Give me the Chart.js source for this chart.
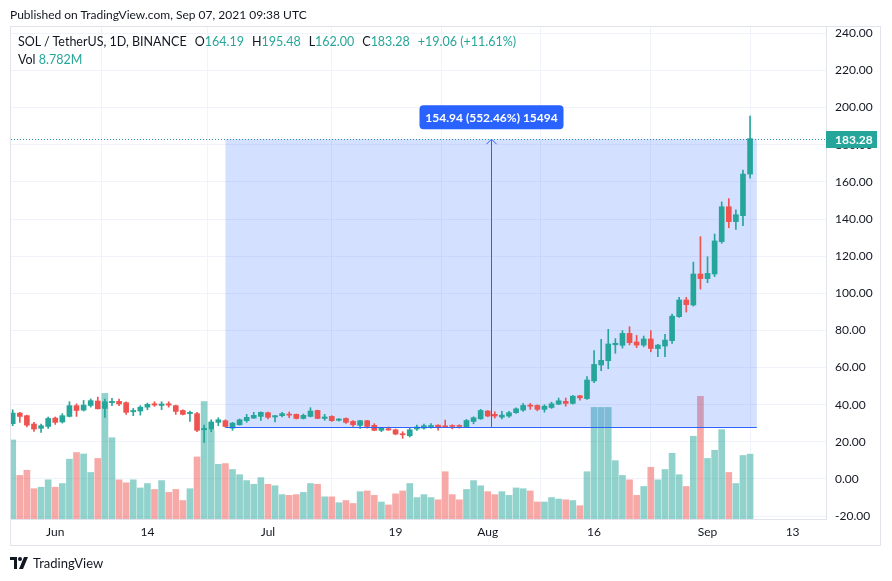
<!DOCTYPE html>
<html>
<head>
<meta charset="utf-8">
<script src="https://cdn.jsdelivr.net/npm/chart.js@4.4.0/dist/chart.umd.min.js"></script>
<style>
  html, body { margin: 0; padding: 0; background: #fff; }
  #wrap { position: relative; width: 892px; height: 581px; overflow: hidden; font-family: Lato, "Liberation Sans", sans-serif; color: #131722; }
  #chart { position: absolute; left: 0; top: 0; }
  .frame { position: absolute; left: 10px; top: 26px; width: 871px; height: 520px; border: 1px solid #e0e3eb; box-sizing: border-box; pointer-events: none; }
  .published { position: absolute; left: 10px; top: 7px; font-size: 12px; white-space: nowrap; }
  .legend { position: absolute; left: 18px; top: 33px; font-size: 12.5px; line-height: 18px; white-space: nowrap; }
  .legend .v { color: #26a69a; }
  .legend .g { margin-left: 8px; }
  .footer { position: absolute; left: 10px; top: 555px; font-size: 13px; display: flex; align-items: center; gap: 4px; }
</style>
</head>
<body>
<div id="wrap">
  <canvas id="chart" width="892" height="581"></canvas>
  <div class="frame"></div>
  <div class="published">Published on TradingView.com, Sep 07, 2021 09:38 UTC</div>
  <div class="legend">
    <div>SOL / TetherUS, 1D, BINANCE<span class="g">O</span><span class="v">164.19</span><span class="g">H</span><span class="v">195.48</span><span class="g">L</span><span class="v">162.00</span><span class="g">C</span><span class="v">183.28</span><span class="g v">+19.06 (+11.61%)</span></div>
    <div>Vol <span class="v">8.782M</span></div>
  </div>
  <div class="footer">
    <svg width="19" height="12" viewBox="0 0 19 12"><path d="M0 0h7v12H4V3H0z" fill="#131722"/><circle cx="10" cy="2" r="2" fill="#131722"/><path d="M14 0h4l-5 12H9z" fill="#131722"/></svg>
    <span>TradingView</span>
  </div>
</div>
<script>
  // daily candles, 26 May 2021 -> 7 Sep 2021 (x = day index)
  const opens = [
    29.8, 35.5, 34.1, 29.6, 27.3, 28.3, 32.8, 30.7, 33.7, 39.5,
    37.1, 39.6, 42.0, 38.0, 41.1, 41.8, 41.1, 36.2, 36.6, 38.7,
    40.5, 39.6, 40.5, 39.5, 36.9, 35.2, 35.2, 26.5, 26.9, 30.5,
    31.4, 27.4, 29.2, 31.4, 32.8, 33.7, 35.7, 33.4, 34.1, 34.8,
    34.8, 32.6, 33.7, 36.9, 32.6, 33.7, 31.6, 32.6, 31.0, 28.9,
    31.4, 28.9, 26.2, 27.1, 26.5, 24.4, 23.3, 26.9, 27.4, 27.9,
    29.0, 28.5, 28.7, 28.7, 28.1, 31.0, 32.4, 36.6, 34.8, 33.3,
    33.9, 35.7, 37.1, 39.8, 39.6, 37.5, 38.5, 40.3, 41.8, 40.7,
    44.8, 43.3, 52.8, 61.4, 63.7, 72.3, 72.0, 78.4, 73.8, 72.1,
    75.4, 70.2, 71.6, 74.5, 87.4, 96.4, 93.7, 110.4, 107.9, 110.4,
    127.8, 146.6, 138.6, 141.8, 164.19
  ];
  const highs = [
    37.3, 35.9, 34.4, 30.5, 29.6, 33.4, 33.4, 35.2, 41.6, 40.5,
    42.3, 43.1, 44.1, 43.1, 43.4, 43.1, 41.6, 38.0, 39.5, 40.9,
    41.6, 41.6, 41.6, 39.8, 37.3, 36.6, 35.9, 29.0, 31.9, 33.0,
    31.9, 30.5, 32.3, 34.8, 35.9, 36.2, 36.1, 34.3, 35.9, 36.1,
    35.0, 35.0, 38.4, 37.1, 34.8, 34.1, 32.6, 33.0, 31.4, 31.6,
    31.6, 29.8, 27.6, 28.0, 26.9, 25.5, 27.3, 29.0, 29.6, 29.9,
    29.2, 31.7, 29.2, 29.2, 32.1, 33.5, 37.5, 36.9, 36.2, 36.4,
    36.4, 38.3, 40.7, 40.7, 40.0, 40.0, 41.4, 43.6, 43.6, 45.0,
    45.0, 55.1, 69.1, 75.2, 80.6, 75.6, 79.9, 82.0, 77.3, 77.0,
    79.9, 72.5, 77.9, 88.8, 97.8, 97.8, 116.8, 130.5, 119.7, 131.9,
    149.2, 151.0, 144.9, 166.4, 195.48
  ];
  const lows = [
    28.7, 30.5, 28.0, 25.6, 25.1, 27.3, 29.4, 30.1, 33.4, 33.7,
    36.6, 38.7, 37.7, 33.2, 39.5, 39.5, 34.8, 34.1, 34.4, 37.3,
    39.1, 37.3, 38.7, 34.8, 34.5, 31.0, 25.5, 19.7, 25.5, 28.7,
    28.0, 26.2, 29.0, 30.5, 32.6, 31.6, 32.3, 30.8, 33.4, 33.0,
    32.3, 32.3, 33.4, 32.5, 31.6, 31.0, 31.2, 29.9, 28.3, 27.3,
    27.4, 26.0, 25.5, 26.2, 23.8, 21.9, 22.6, 26.2, 26.9, 27.4,
    26.3, 27.8, 27.0, 27.4, 27.8, 29.7, 32.1, 33.5, 32.8, 32.4,
    33.1, 35.3, 36.4, 37.5, 36.7, 36.0, 38.0, 40.0, 39.2, 40.3,
    42.5, 42.8, 51.9, 58.3, 59.4, 67.7, 70.5, 72.2, 70.7, 71.2,
    68.5, 65.9, 65.9, 73.0, 87.0, 89.9, 93.1, 102.3, 105.7, 109.0,
    126.9, 135.3, 134.4, 136.4, 162.00
  ];
  const closes = [
    35.5, 33.7, 29.0, 26.9, 28.7, 32.6, 30.5, 34.1, 39.5, 36.9,
    39.8, 42.2, 37.8, 41.6, 41.8, 40.4, 35.9, 36.9, 38.7, 40.2,
    39.8, 40.4, 39.8, 36.4, 34.8, 35.9, 26.2, 27.3, 30.7, 31.9,
    28.3, 30.1, 31.9, 33.2, 34.3, 35.9, 33.2, 34.1, 35.2, 34.4,
    32.6, 34.3, 36.6, 32.6, 33.4, 31.4, 32.3, 30.5, 29.2, 31.4,
    28.3, 26.2, 27.3, 26.4, 24.2, 23.8, 26.5, 28.0, 28.7, 28.8,
    27.8, 28.1, 28.3, 28.3, 31.5, 33.0, 36.9, 33.9, 33.9, 34.4,
    35.7, 37.8, 39.6, 39.2, 37.5, 39.2, 40.5, 42.1, 40.7, 44.6,
    43.7, 53.3, 61.7, 63.9, 72.7, 73.1, 78.4, 73.4, 72.1, 75.4,
    70.3, 72.1, 74.8, 87.7, 96.4, 93.9, 110.4, 107.9, 110.7, 128.2,
    146.6, 138.6, 142.3, 164.19, 183.28
  ];
  // volume in millions
  const volumes = [
    10.7, 5.9, 6.6, 4.1, 4.3, 5.3, 4.3, 4.8, 8.1, 9.0,
    8.8, 6.3, 8.2, 17.0, 11.0, 5.3, 4.9, 5.3, 4.2, 4.8,
    4.0, 5.2, 3.6, 4.0, 2.5, 4.1, 8.4, 15.9, 12.1, 7.4,
    7.5, 6.7, 6.0, 5.2, 4.7, 5.6, 4.7, 4.5, 3.3, 3.2,
    3.3, 3.6, 4.8, 4.7, 3.0, 3.0, 2.2, 2.5, 2.1, 3.7,
    3.8, 3.2, 2.3, 1.9, 3.4, 3.8, 4.8, 2.9, 3.3, 2.9,
    2.6, 6.4, 3.3, 2.6, 4.0, 5.2, 4.5, 3.7, 3.3, 3.7,
    3.2, 4.2, 4.1, 3.8, 2.3, 2.3, 2.9, 2.7, 2.6, 2.5,
    1.8, 6.4, 15.1, 15.1, 15.1, 7.9, 5.9, 5.3, 3.2, 4.4,
    7.0, 5.3, 6.7, 8.9, 6.0, 4.4, 11.2, 16.6, 8.2, 9.3,
    12.1, 6.3, 4.8, 8.6, 8.782
  ];
  const tickDays = [6, 19, 36, 54, 67, 82, 98, 110];
  const tickLabels = ['Jun', '14', 'Jul', '19', 'Aug', '16', 'Sep', '13'];
  const priceTicks = [-20, 0, 20, 40, 60, 80, 100, 120, 140, 160, 180, 200, 220, 240];

  // price range drawing: anchors in (day, price)
  const measureFrom = { day: 30.0, price: 28.05 };
  const measureTo = { day: 104.95, price: 183.0 };
  const measureText = '154.94 (552.46%) 15494';
  const lastPrice = 183.28;

  const UP = '#26a69a';
  const DOWN = '#ef5350';
  const UP_VOL = 'rgba(38,166,154,0.5)';
  const DOWN_VOL = 'rgba(239,83,80,0.5)';
  const isUp = closes.map((c, i) => c >= opens[i]);

  const overlay = {
    id: 'overlay',
    beforeDatasetDraw(chart, args) {
      if (chart.data.datasets[args.index].label !== 'Wick') return;
      const { ctx, chartArea, scales: { x, y } } = chart;
      const x0 = x.getPixelForValue(measureFrom.day);
      const x1 = x.getPixelForValue(measureTo.day);
      const yTop = y.getPixelForValue(measureTo.price);
      const yBot = y.getPixelForValue(measureFrom.price);
      ctx.save();
      ctx.beginPath();
      ctx.rect(chartArea.left, chartArea.top, chartArea.width, chartArea.height);
      ctx.clip();
      ctx.fillStyle = 'rgba(41,98,255,0.2)';
      ctx.fillRect(x0, yTop, x1 - x0, yBot - yTop);
      ctx.restore();
    },
    afterDatasetsDraw(chart) {
      const { ctx, chartArea, scales: { x, y } } = chart;
      const x0 = x.getPixelForValue(measureFrom.day);
      const x1 = x.getPixelForValue(measureTo.day);
      const yTop = y.getPixelForValue(measureTo.price);
      const yBot = y.getPixelForValue(measureFrom.price);
      const xm = Math.round((x0 + x1) / 2) + 0.5;
      ctx.save();
      ctx.strokeStyle = '#2962ff';
      ctx.lineWidth = 1;
      ctx.beginPath();
      ctx.moveTo(x0, Math.round(yBot) + 0.5);
      ctx.lineTo(x1, Math.round(yBot) + 0.5);
      ctx.moveTo(xm, yBot);
      ctx.lineTo(xm, yTop);
      ctx.moveTo(xm - 5, yTop + 5);
      ctx.lineTo(xm, yTop);
      ctx.lineTo(xm + 5, yTop + 5);
      ctx.stroke();

      // last price dotted line
      const yl = Math.round(y.getPixelForValue(lastPrice)) + 0.5;
      ctx.strokeStyle = '#2b8fa8';
      ctx.setLineDash([1, 2]);
      ctx.beginPath();
      ctx.moveTo(chartArea.left, yl);
      ctx.lineTo(chartArea.right, yl);
      ctx.stroke();
      ctx.setLineDash([]);

      // measure label
      ctx.font = 'bold 12px Lato, "Liberation Sans", sans-serif';
      const w = 144, h = 24;
      const bx = xm - w / 2, by = yTop - 10 - h;
      ctx.fillStyle = '#2962ff';
      ctx.beginPath();
      ctx.roundRect(bx, by, w, h, 4);
      ctx.fill();
      ctx.fillStyle = '#fff';
      ctx.textAlign = 'center';
      ctx.textBaseline = 'middle';
      ctx.fillText(measureText, xm, by + h / 2 + 1);
      ctx.restore();
    },
    afterDraw(chart) {
      const { ctx, chartArea, scales: { y } } = chart;
      const yl = y.getPixelForValue(lastPrice);
      ctx.save();
      ctx.fillStyle = UP;
      ctx.fillRect(chartArea.right, Math.round(yl) - 8, 51, 17);
      ctx.fillStyle = '#fff';
      ctx.font = 'bold 12px Lato, "Liberation Sans", sans-serif';
      ctx.textAlign = 'left';
      ctx.textBaseline = 'middle';
      ctx.fillText(lastPrice.toFixed(2), chartArea.right + 9, Math.round(yl) + 1);
      ctx.restore();
    }
  };

  Chart.defaults.font.family = 'Lato, "Liberation Sans", sans-serif';
  Chart.defaults.font.size = 12;
  Chart.defaults.color = '#131722';

  new Chart(document.getElementById('chart'), {
    type: 'bar',
    data: {
      datasets: [
        {
          label: 'Body',
          data: opens.map((o, i) => ({ x: i, y: [o, closes[i]] })),
          backgroundColor: isUp.map((u) => (u ? UP : DOWN)),
          barThickness: 5,
          minBarLength: 1,
          grouped: false,
          order: 1
        },
        {
          label: 'Wick',
          data: lows.map((l, i) => ({ x: i, y: [l, highs[i]] })),
          backgroundColor: isUp.map((u) => (u ? UP : DOWN)),
          barThickness: 1,
          grouped: false,
          order: 2
        },
        {
          label: 'Volume',
          data: volumes.map((v, i) => ({ x: i, y: v })),
          backgroundColor: isUp.map((u) => (u ? UP_VOL : DOWN_VOL)),
          barThickness: 6,
          grouped: false,
          yAxisID: 'vol',
          order: 3
        }
      ]
    },
    options: {
      responsive: false,
      animation: false,
      layout: { padding: { left: 11, top: 27, right: 12, bottom: 36 } },
      plugins: { legend: { display: false }, tooltip: { enabled: false } },
      scales: {
        x: {
          type: 'linear',
          min: -0.24,
          max: 114.71,
          offset: false,
          afterFit(scale) { scale.height = 26; },
          afterBuildTicks(scale) { scale.ticks = tickDays.map((v) => ({ value: v })); },
          ticks: {
            autoSkip: false,
            maxRotation: 0,
            padding: 6,
            color: '#131722',
            callback: (v) => tickLabels[tickDays.indexOf(v)]
          },
          grid: { color: '#f0f3fa', drawTicks: false },
          border: { color: '#e0e3eb' }
        },
        y: {
          position: 'right',
          min: -21.54,
          max: 243.4,
          afterFit(scale) { scale.width = 54; },
          afterBuildTicks(scale) { scale.ticks = priceTicks.map((v) => ({ value: v })); },
          ticks: { padding: 9, color: '#131722', callback: (v) => v.toFixed(2) },
          grid: { color: '#f0f3fa', drawTicks: false },
          border: { color: '#e0e3eb' }
        },
        vol: {
          display: false,
          min: 0,
          max: 66.6
        }
      }
    },
    plugins: [overlay]
  });
</script>
</body>
</html>
